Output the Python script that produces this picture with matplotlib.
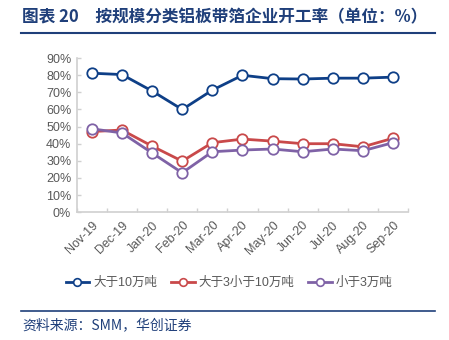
import matplotlib.pyplot as plt
from matplotlib.lines import Line2D
import numpy as np

months = ["Nov-19", "Dec-19", "Jan-20", "Feb-20", "Mar-20", "Apr-20",
          "May-20", "Jun-20", "Jul-20", "Aug-20", "Sep-20"]
big = [81.2, 80.4, 70.8, 60.0, 71.3, 80.0, 78.0, 77.8, 78.3, 78.3, 78.9]
mid = [47.1, 48.0, 38.6, 29.8, 40.6, 42.7, 41.5, 40.0, 40.0, 38.2, 43.2]
small = [48.7, 46.3, 34.6, 23.0, 35.3, 36.3, 36.9, 35.3, 36.9, 35.9, 40.6]
labels = ["大于10万吨", "大于3小于10万吨", "小于3万吨"]
colors = ["#0E3F87", "#C9494A", "#7F62A6"]

plt.rcParams['font.family'] = ['Liberation Sans', 'Noto Sans CJK SC', 'DejaVu Sans']

fig = plt.figure(figsize=(4.49, 3.4), dpi=100)
ax = fig.add_axes([0.171, 0.376, 0.738, 0.453])

x = np.arange(len(months))
for vals, c in zip([big, mid, small], colors):
    ax.plot(x, vals, color=c, lw=2, marker='o', ms=7.5, mfc='white',
            mec=c, mew=1.3, zorder=3)

ax.set_xlim(-0.5, len(months) - 0.5)
ax.set_ylim(0, 90)
ax.set_yticks(range(0, 91, 10))
ax.set_yticklabels([f"{v}%" for v in range(0, 91, 10)])
ax.set_xticks(x)
ax.set_xticklabels(months, rotation=45, ha='right', rotation_mode='anchor')
ax.set_xticks(np.arange(-0.5, len(months), 1), minor=True)
ax.tick_params(axis='x', which='major', length=0, pad=5)
ax.tick_params(axis='x', which='minor', direction='in', length=3,
               color='#D0D0D0', width=1)
ax.tick_params(axis='y', direction='in', length=3, color='#D0D0D0',
               width=1, pad=4)
ax.tick_params(labelsize=9, labelcolor='#595959')
for s in ['top', 'right']:
    ax.spines[s].set_visible(False)
for s in ['left', 'bottom']:
    ax.spines[s].set_color('#D0D0D0')
    ax.spines[s].set_linewidth(1.2)

handles = [Line2D([], [], color=c, lw=2, marker='o', ms=5.5, mfc='white',
                  mec=c, mew=1.2) for c in colors]
fig.legend(handles, labels, loc='center', bbox_to_anchor=(0.51, 0.168),
           ncol=3, frameon=False, fontsize=9, handlelength=1.9,
           handletextpad=0.3, columnspacing=1.1, labelcolor='#595959')

fig.text(0.049, 0.948, "图表 20　按规模分类铝板带箔企业开工率（单位：%）",
         fontsize=12, fontweight='bold', color='#1F3F7A',
         family=['Noto Sans CJK SC', 'DejaVu Sans'], va='center')
fig.add_artist(Line2D([0.047, 0.968], [0.902, 0.902], color='#1F3F7A', lw=1.5))
fig.add_artist(Line2D([0.047, 0.968], [0.086, 0.086], color='#1F3F7A', lw=1.2))
fig.text(0.049, 0.042, "资料来源：SMM，华创证券", fontsize=10, style='italic',
         color='#1F3F7A', family=['Noto Sans CJK SC', 'DejaVu Sans'],
         va='center')

fig.savefig("out.png", dpi=100)
